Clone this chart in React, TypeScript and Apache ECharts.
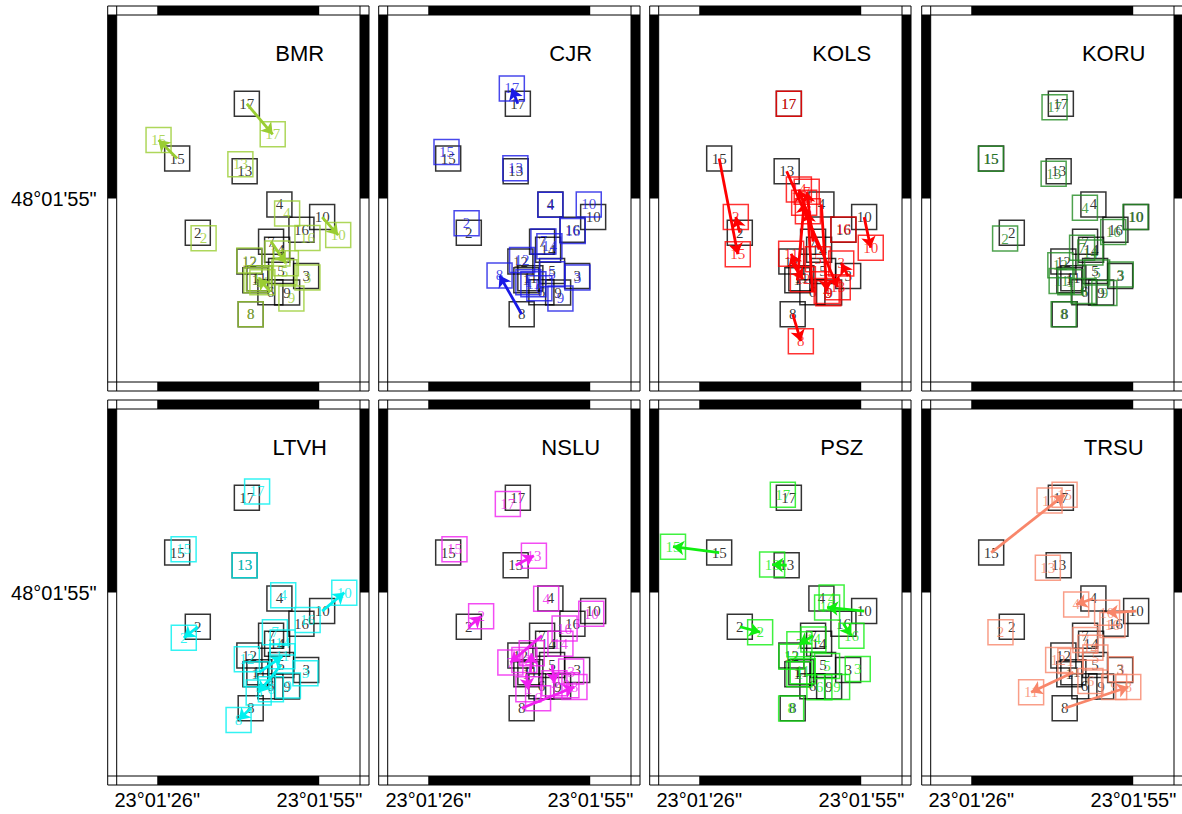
import React, { useEffect, useRef } from 'react';
import * as echarts from 'echarts';

// Event numbers
const EVENTS = ['1', '2', '3', '4', '5', '6', '7', '8', '9', '10', '11', '12', '13', '14', '15', '16', '17'];

// Map region, in arc-seconds after 23°01' (lon) and 48°01' (lat)
const LON_MIN = 19.2;
const LON_MAX = 62.4;
const LAT_MIN = 33.6;
const LAT_MAX = 76.8;
const LON_TICKS = [26.4, 55.2];
const LAT_TICKS = [55.2];

// Reference (black) epicentres
const REF_LON = [43.82, 33.60, 52.84, 48.09, 48.39, 46.49, 46.61, 42.99, 49.46, 55.68, 44.53, 42.76, 41.92, 47.68, 29.94, 52.00, 42.31];
const REF_LAT = [45.57, 51.17, 46.08, 54.50, 46.67, 44.17, 50.12, 41.58, 44.13, 53.01, 45.81, 47.77, 58.41, 49.18, 59.90, 51.53, 66.35];

// Relocated epicentres per station
const BMR_LON = [44.00, 34.63, 53.07, 49.46, 48.98, 44.44, 49.24, 42.99, 50.22, 58.53, 45.07, 42.76, 41.16, 47.73, 26.63, 53.07, 46.90];
const BMR_LAT = [45.57, 50.51, 45.89, 53.44, 46.51, 45.81, 47.57, 41.58, 43.43, 50.89, 45.34, 47.89, 59.23, 48.74, 62.09, 50.54, 62.75];

const CJR_LON = [44.18, 33.21, 52.89, 48.09, 48.39, 46.13, 46.85, 39.06, 49.87, 54.90, 45.07, 43.06, 41.87, 47.91, 29.64, 52.05, 41.24];
const CJR_LAT = [45.34, 52.30, 45.89, 54.46, 46.28, 44.64, 50.15, 46.14, 43.43, 54.50, 45.11, 47.96, 58.76, 49.57, 60.66, 51.36, 68.15];

const KOLS_LON = [45.03, 32.89, 51.61, 49.03, 47.47, 45.69, 45.48, 44.44, 49.33, 56.85, 42.72, 44.80, 50.99, 44.09, 33.24, 52.00, 42.31];
const KOLS_LAT = [54.70, 53.03, 47.55, 44.32, 48.04, 53.71, 55.99, 38.41, 44.05, 49.41, 48.69, 45.69, 44.75, 56.26, 48.63, 51.56, 66.35];

const KORU_LON = [44.00, 32.41, 52.94, 46.58, 48.75, 46.36, 46.08, 42.81, 50.04, 55.56, 42.45, 42.22, 41.03, 47.56, 29.87, 51.61, 41.19];
const KORU_LAT = [45.34, 50.48, 46.24, 54.11, 46.48, 44.32, 49.41, 41.58, 44.08, 53.03, 45.49, 47.34, 58.10, 48.83, 59.87, 51.27, 65.94];

const LTVH_LON = [44.00, 31.11, 52.71, 48.77, 44.41, 46.58, 47.29, 40.84, 49.60, 59.61, 48.62, 42.31, 41.92, 48.68, 31.08, 53.10, 44.13];
const LTVH_LAT = [45.57, 49.86, 45.69, 54.87, 43.43, 43.81, 50.53, 40.20, 44.25, 55.18, 47.69, 47.34, 58.41, 49.30, 60.28, 51.97, 67.09];

const NSLU_LON = [44.18, 35.79, 51.77, 47.34, 48.80, 45.90, 40.98, 52.36, 50.93, 55.34, 44.77, 43.47, 45.16, 49.87, 31.06, 50.61, 40.53];
const NSLU_LAT = [43.81, 52.41, 45.89, 54.47, 44.52, 42.76, 46.95, 44.08, 44.28, 52.71, 48.04, 47.25, 59.52, 49.18, 60.28, 50.95, 65.62];

const PSZ_LON = [44.18, 37.21, 54.54, 49.90, 49.10, 47.73, 44.18, 42.72, 50.88, 49.10, 44.77, 42.76, 39.34, 46.67, 21.74, 53.42, 41.24];
const PSZ_LAT = [45.57, 50.53, 46.20, 54.61, 46.55, 44.05, 49.10, 41.56, 44.08, 53.44, 45.93, 47.65, 58.49, 49.68, 60.60, 50.12, 66.70];

const TRSU_LON = [44.00, 31.59, 52.94, 45.03, 48.44, 47.56, 46.67, 54.28, 51.77, 50.52, 37.03, 41.83, 40.00, 47.56, 42.97, 51.47, 40.30];
const TRSU_LAT = [47.14, 50.53, 46.16, 53.79, 47.54, 44.79, 49.60, 44.08, 44.08, 52.82, 43.46, 47.24, 58.10, 48.71, 66.70, 51.36, 66.02];

const STATION_NAMES = ['BMR', 'CJR', 'KOLS', 'KORU', 'LTVH', 'NSLU', 'PSZ', 'TRSU'];
const STATION_COLORS = ['#9acd32', '#1a1ae6', '#ff0000', '#228b22', '#00f0f0', '#f020f0', '#10ee10', '#f8866a'];
const STATION_LON = [BMR_LON, CJR_LON, KOLS_LON, KORU_LON, LTVH_LON, NSLU_LON, PSZ_LON, TRSU_LON];
const STATION_LAT = [BMR_LAT, CJR_LAT, KOLS_LAT, KORU_LAT, LTVH_LAT, NSLU_LAT, PSZ_LAT, TRSU_LAT];

// metres per arc-second at this latitude (for deciding which shifts get an arrow)
const M_PER_SEC_LON = 20.66;
const M_PER_SEC_LAT = 30.87;
const MIN_ARROW_M = 50;

// Layout
const GRID_LEFT = [116.7, 387.7, 658.7, 930.7];
const GRID_TOP = [15, 409];
const GRID_W = 243.3;
const GRID_H = 367;
const FRAME = 9;

const fmtLon = (v: number) => `23°01'${Math.floor(v + 1e-6)}"`;
const fmtLat = (v: number) => `48°01'${Math.floor(v + 1e-6)}"`;

function frameRenderer(params: any, api: any) {
  const cs = params.coordSys;
  const B = FRAME;
  const xs = [LON_MIN, ...LON_TICKS, LON_MAX].map((v) => api.coord([v, LAT_MIN])[0]);
  const ys = [LAT_MIN, ...LAT_TICKS, LAT_MAX].map((v) => api.coord([LON_MIN, v])[1]);
  const children: any[] = [];
  for (let i = 0; i < xs.length - 1; i++) {
    const fill = i % 2 === 0 ? '#ffffff' : '#000000';
    children.push({ type: 'rect', shape: { x: xs[i], y: cs.y - B, width: xs[i + 1] - xs[i], height: B }, style: { fill } });
    children.push({ type: 'rect', shape: { x: xs[i], y: cs.y + cs.height, width: xs[i + 1] - xs[i], height: B }, style: { fill } });
  }
  for (let i = 0; i < ys.length - 1; i++) {
    const fill = i % 2 === 0 ? '#ffffff' : '#000000';
    children.push({ type: 'rect', shape: { x: cs.x - B, y: ys[i + 1], width: B, height: ys[i] - ys[i + 1] }, style: { fill } });
    children.push({ type: 'rect', shape: { x: cs.x + cs.width, y: ys[i + 1], width: B, height: ys[i] - ys[i + 1] }, style: { fill } });
  }
  const x0 = cs.x - B, x1 = cs.x, x2 = cs.x + cs.width, x3 = cs.x + cs.width + B;
  const y0 = cs.y - B, y1 = cs.y, y2 = cs.y + cs.height, y3 = cs.y + cs.height + B;
  const ln = { stroke: '#000', lineWidth: 1 };
  [y0, y1, y2, y3].forEach((y) => children.push({ type: 'line', shape: { x1: x0, y1: y, x2: x3, y2: y }, style: ln }));
  [x0, x1, x2, x3].forEach((x) => children.push({ type: 'line', shape: { x1: x, y1: y0, x2: x, y2: y3 }, style: ln }));
  return { type: 'group', children };
}

export default function App() {
  const ref = useRef<HTMLDivElement>(null);

  useEffect(() => {
    if (!ref.current) return;
    const chart = echarts.init(ref.current, null, { renderer: 'svg' });

    const grids: any[] = [];
    const xAxes: any[] = [];
    const yAxes: any[] = [];
    const series: any[] = [];
    const graphics: any[] = [];

    STATION_NAMES.forEach((name, i) => {
      const r = Math.floor(i / 4);
      const c = i % 4;
      const color = STATION_COLORS[i];
      grids.push({ left: GRID_LEFT[c], top: GRID_TOP[r], width: GRID_W, height: GRID_H, containLabel: false, outerBoundsMode: 'none' });
      xAxes.push({
        gridIndex: i, type: 'value', min: LON_MIN, max: LON_MAX,
        axisLine: { show: false }, axisTick: { show: false }, splitLine: { show: false },
        axisLabel: {
          show: r === 1, customValues: LON_TICKS, formatter: fmtLon, margin: 14,
          color: '#000', fontSize: 20, fontFamily: 'Liberation Sans',
        },
      });
      yAxes.push({
        gridIndex: i, type: 'value', min: LAT_MIN, max: LAT_MAX,
        axisLine: { show: false }, axisTick: { show: false }, splitLine: { show: false },
        axisLabel: {
          show: c === 0, customValues: LAT_TICKS, formatter: fmtLat, margin: 20,
          color: '#000', fontSize: 20, fontFamily: 'Liberation Sans',
        },
      });

      // Frame
      series.push({
        type: 'custom', xAxisIndex: i, yAxisIndex: i, clip: false, silent: true, z: 6,
        renderItem: frameRenderer, data: [[LON_MIN, LAT_MIN]],
      });

      // Reference positions (black)
      series.push({
        type: 'scatter', xAxisIndex: i, yAxisIndex: i, z: 3, silent: true,
        symbol: 'rect', symbolSize: 25,
        itemStyle: { color: 'rgba(0,0,0,0)', borderColor: '#000', borderWidth: 1.5 },
        label: { show: true, position: 'inside', formatter: '{b}', color: '#000', fontFamily: 'Liberation Serif', fontSize: 15 },
        data: EVENTS.map((e, k) => ({ name: e, value: [REF_LON[k], REF_LAT[k]] })),
      });

      // Relocated (coloured)
      const lons = STATION_LON[i];
      const lats = STATION_LAT[i];
      series.push({
        type: 'scatter', xAxisIndex: i, yAxisIndex: i, z: 4, silent: true,
        symbol: 'rect', symbolSize: 25,
        itemStyle: { color: 'rgba(0,0,0,0)', borderColor: color, borderWidth: 1.5 },
        label: { show: true, position: 'inside', formatter: '{b}', color, fontFamily: 'Liberation Serif', fontSize: 15 },
        data: EVENTS.map((e, k) => ({ name: e, value: [lons[k], lats[k]] })),
      });

      // Shift arrows
      const arrows: any[] = [];
      EVENTS.forEach((e, k) => {
        const dx = (lons[k] - REF_LON[k]) * M_PER_SEC_LON;
        const dy = (lats[k] - REF_LAT[k]) * M_PER_SEC_LAT;
        if (Math.hypot(dx, dy) > MIN_ARROW_M) {
          arrows.push({ coords: [[REF_LON[k], REF_LAT[k]], [lons[k], lats[k]]] });
        }
      });
      series.push({
        type: 'lines', coordinateSystem: 'cartesian2d', xAxisIndex: i, yAxisIndex: i, z: 5, silent: true,
        symbol: ['none', 'arrow'], symbolSize: 11,
        lineStyle: { color, width: 2.8, opacity: 1, curveness: 0 },
        data: arrows,
      });

      graphics.push({
        type: 'text', x: GRID_LEFT[c] + 183, y: GRID_TOP[r] + 38, z: 10,
        style: {
          text: name, fill: '#000', font: '22px "Liberation Sans"',
          textAlign: 'center', textVerticalAlign: 'middle', align: 'center', verticalAlign: 'middle',
        },
      });
    });

    chart.setOption({
      animation: false,
      backgroundColor: '#ffffff',
      grid: grids,
      xAxis: xAxes,
      yAxis: yAxes,
      series,
      graphic: graphics,
    });

    return () => chart.dispose();
  }, []);

  return (
    <div
      ref={ref}
      style={{ position: 'absolute', left: 0, top: 0, width: 1182, height: 814, background: '#fff' }}
    />
  );
}
